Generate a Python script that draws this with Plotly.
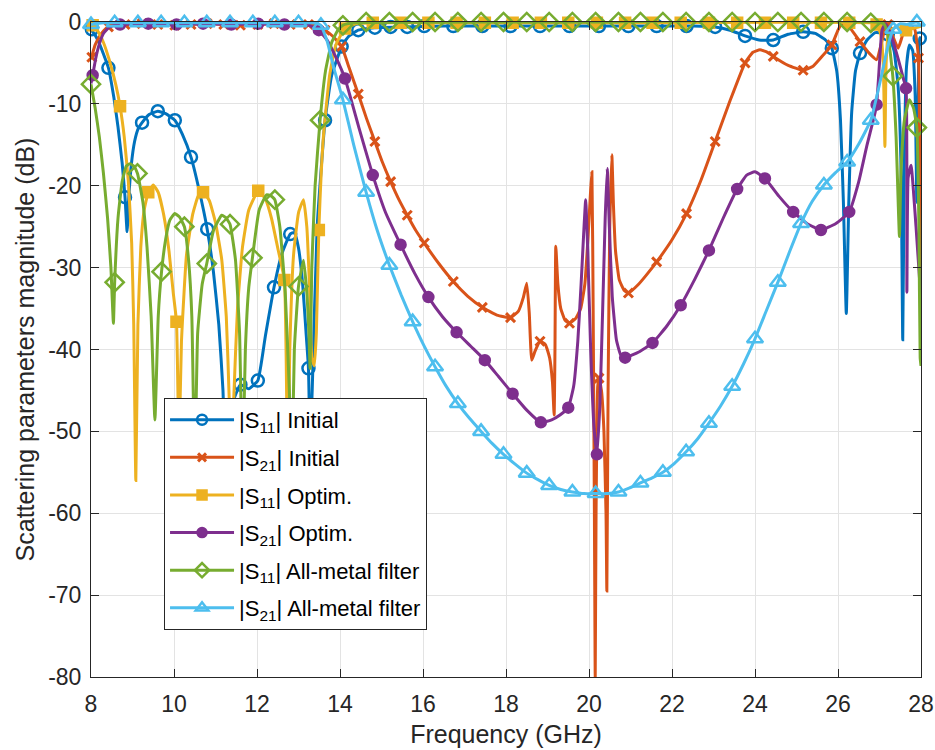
import plotly.graph_objects as go

# ---------------- data (frequency GHz, magnitude dB) ----------------
s11_initial = [(8.0,-0.9),(8.1,-1.6),(8.2,-2.6),(8.3,-3.9),(8.42,-5.6),(8.55,-9.2),(8.65,-12.8),(8.75,-17.2),
    (8.82,-21.4),(8.87,-25.6),(8.91,-21.5),(8.97,-17.5),(9.05,-14.6),(9.14,-13.0),(9.23,-12.3),(9.4,-11.3),
    (9.61,-10.9),(9.8,-11.2),(10.02,-12.0),(10.2,-13.7),(10.41,-16.5),(10.6,-20.4),(10.8,-25.3),(10.95,-30.5),
    (11.08,-37),(11.18,-45),(11.26,-58),(11.34,-50),(11.45,-46),(11.6,-44.3),(11.8,-44.8),(12.02,-43.8),
    (12.2,-38.4),(12.41,-32.4),(12.6,-28.3),(12.8,-25.9),(12.9,-25.7),(13.0,-27.6),(13.1,-32),(13.18,-37.8),
    (13.24,-42.3),(13.28,-52),(13.33,-45),(13.45,-25),(13.64,-12.0),(13.8,-6.5),(14.04,-3.0),(14.2,-1.8),
    (14.44,-1.0),(14.84,-0.7),(15.5,-0.6),(16.5,-0.5),(17.5,-0.5),(18.5,-0.5),(19.5,-0.5),(20.5,-0.5),
    (21.5,-0.5),(22.5,-0.5),(23.04,-0.6),(23.4,-1.0),(23.76,-1.7),(24.1,-2.2),(24.44,-2.2),(24.8,-1.5),
    (25.16,-1.2),(25.45,-1.4),(25.7,-2.2),(25.85,-3.2),(25.97,-6),(26.06,-12),(26.13,-22),(26.2,-35.6),
    (26.26,-22),(26.33,-11),(26.42,-6),(26.53,-3.8),(26.7,-2.2),(26.9,-1.3),(27.2,-1.5),(27.35,-3.5),
    (27.45,-8),(27.52,-18),(27.56,-38.8),(27.6,-16),(27.65,-5.5),(27.72,-2.8),(27.8,-3.5),(27.86,-9),
    (27.9,-22),(27.94,-6),(27.97,-2.0),(28.0,-1.8)]

s21_initial = [(8.0,-4.5),(8.1,-2.8),(8.2,-1.8),(8.3,-1.1),(8.42,-0.6),(8.6,-0.3),(8.82,-0.3),(9.23,-0.2),
    (9.61,-0.3),(10.02,-0.4),(10.41,-0.3),(10.8,-0.2),(11.2,-0.3),(11.6,-0.4),(12.02,-0.3),(12.41,-0.2),
    (12.8,-0.3),(13.24,-0.3),(13.45,-0.5),(13.64,-1.0),(13.84,-1.8),(14.04,-3.0),(14.22,-5.6),(14.44,-8.8),
    (14.64,-11.8),(14.84,-14.6),(15.02,-17.1),(15.22,-19.5),(15.42,-21.7),(15.62,-23.6),(15.82,-25.4),
    (16.03,-27.0),(16.38,-29.5),(16.73,-31.7),(17.08,-33.5),(17.43,-34.85),(17.78,-35.8),(18.11,-36.1),
    (18.3,-35.3),(18.42,-33.6),(18.5,-31.9),(18.56,-35.5),(18.62,-41.3),(18.7,-40.2),(18.82,-39.0),
    (18.95,-39.4),(19.05,-41),(19.12,-44),(19.16,-48.0),(19.18,-40),(19.2,-27.4),(19.25,-32),(19.32,-35),
    (19.42,-36.4),(19.53,-36.8),(19.68,-36.2),(19.8,-35.0),(19.9,-32),(19.98,-26),(20.04,-20.5),(20.07,-18.3),
    (20.1,-35),(20.13,-60),(20.15,-80),(20.17,-60),(20.21,-44.5),(20.24,-43.5),(20.3,-45),(20.36,-50),
    (20.41,-60),(20.43,-69.5),(20.46,-45),(20.5,-25),(20.55,-16.2),(20.59,-22.5),(20.64,-28),(20.73,-31.5),
    (20.85,-32.8),(20.95,-33.1),(21.2,-32.0),(21.4,-30.8),(21.63,-29.3),(22.0,-26.6),(22.35,-23.4),
    (22.7,-19.3),(23.04,-14.6),(23.4,-9.6),(23.76,-5.0),(23.95,-3.7),(24.12,-3.4),(24.3,-3.7),(24.44,-4.2),
    (24.8,-5.3),(25.16,-5.9),(25.4,-5.4),(25.65,-4.0),(25.85,-2.8),(26.0,-1.0),(26.09,-0.2),(26.3,-0.8),
    (26.53,-2.4),(26.75,-3.8),(26.93,-4.6),(27.05,-2.5),(27.17,-0.1),(27.3,-1.5),(27.45,-3.2),(27.6,-1.0),
    (27.75,-0.5),(27.85,-0.9),(27.94,-4.4),(27.97,-18),(28.0,-40)]

s11_optim = [(8.0,-0.3),(8.04,-0.4),(8.15,-1.0),(8.3,-2.5),(8.45,-4.8),(8.6,-7.7),(8.7,-10.3),(8.8,-14),
    (8.9,-19.5),(8.98,-27),(9.03,-37),(9.08,-56),(9.13,-37),(9.2,-27.5),(9.28,-23),(9.38,-20.8),(9.5,-19.9),
    (9.62,-20.8),(9.75,-23.5),(9.88,-28),(9.98,-33),(10.06,-36.6),(10.12,-52),(10.18,-39),(10.3,-28.5),
    (10.45,-23.5),(10.58,-21.3),(10.7,-20.8),(10.85,-21.8),(11.0,-24.5),(11.15,-29),(11.26,-36),(11.33,-46),
    (11.38,-58),(11.44,-46),(11.53,-35),(11.65,-27.5),(11.8,-23),(12.03,-20.6),(12.2,-21.6),(12.35,-24),
    (12.5,-27.6),(12.66,-31.5),(12.7,-40),(12.74,-55),(12.79,-40),(12.88,-28.5),(13.0,-23.3),(13.12,-21.7),
    (13.2,-25),(13.27,-33),(13.32,-41),(13.38,-42),(13.43,-38),(13.49,-25.4),(13.6,-14),(13.75,-6.5),
    (13.9,-2.8),(14.12,-0.8),(14.4,-0.2),(15.0,-0.1),(20.0,-0.1),(26.8,-0.1),(26.93,-0.3),(27.03,-1.5),
    (27.09,-5),(27.13,-15.2),(27.16,-5),(27.22,-1.2),(27.4,-0.6),(27.64,-1.0),(27.8,-0.8),(28.0,-0.5)]

s21_optim = [(8.0,-7.5),(8.04,-6.5),(8.12,-4.3),(8.2,-2.7),(8.3,-1.4),(8.45,-0.6),(8.7,-0.3),(9.38,-0.2),
    (10.06,-0.3),(10.7,-0.2),(11.38,-0.3),(12.03,-0.2),(12.66,-0.3),(13.2,-0.3),(13.49,-1.0),(13.7,-2.3),
    (13.9,-4.3),(14.12,-6.9),(14.45,-12.8),(14.79,-18.7),(15.1,-23.3),(15.46,-27.2),(15.8,-30.7),(16.13,-33.6),
    (16.47,-36.0),(16.81,-37.9),(17.15,-39.6),(17.49,-41.3),(17.82,-43.3),(18.16,-45.4),(18.5,-47.4),
    (18.84,-48.9),(19.1,-48.6),(19.3,-48.0),(19.5,-47.1),(19.63,-44.5),(19.73,-39),(19.81,-32),(19.87,-26),
    (19.92,-21.7),(19.97,-28),(20.04,-40),(20.12,-49.5),(20.19,-52.8),(20.26,-47),(20.33,-35),(20.39,-24),
    (20.44,-17.9),(20.49,-25),(20.56,-33.5),(20.66,-38.8),(20.76,-40.6),(20.87,-41.0),(21.2,-40.3),
    (21.53,-39.2),(21.88,-37.1),(22.21,-34.6),(22.55,-31.4),(22.89,-27.9),(23.23,-24.0),(23.57,-20.4),
    (23.8,-18.7),(24.0,-18.3),(24.24,-19.1),(24.58,-21.3),(24.92,-23.2),(25.25,-24.6),(25.59,-25.4),
    (25.95,-24.6),(26.27,-23.2),(26.5,-19.5),(26.7,-15),(26.85,-12),(26.93,-10.1),(27.0,-5),(27.06,-1),
    (27.14,-0.2),(27.25,-1.2),(27.45,-4.5),(27.58,-7),(27.64,-8.1),(27.66,-33),(27.69,-19),(27.76,-17.5),
    (27.88,-25),(28.0,-34)]

s11_allmetal = [(8.0,-7.6),(8.1,-10.5),(8.2,-14),(8.3,-18.5),(8.4,-24),(8.48,-30),(8.54,-36.8),(8.57,-31.8),
    (8.65,-24),(8.75,-19.5),(8.85,-17.6),(8.94,-17.3),(9.03,-17.6),(9.12,-18.5),(9.25,-22),(9.35,-27.5),
    (9.45,-36),(9.54,-48.6),(9.62,-36),(9.7,-30.5),(9.8,-26.5),(9.9,-24.2),(10.02,-23.4),(10.13,-23.8),
    (10.25,-25.0),(10.35,-29),(10.43,-36),(10.5,-55),(10.57,-38),(10.68,-32),(10.79,-29.5),(10.95,-25.5),
    (11.15,-23.6),(11.25,-23.9),(11.35,-24.7),(11.48,-29),(11.58,-38),(11.65,-55),(11.72,-40),(11.8,-32.5),
    (11.89,-28.8),(12.05,-23),(12.23,-21.1),(12.33,-21.2),(12.43,-21.7),(12.55,-25),(12.68,-33),(12.78,-45),
    (12.84,-55),(12.9,-40),(13.0,-32.3),(13.12,-29.1),(13.2,-33),(13.25,-38),(13.28,-42.3),(13.32,-30),
    (13.4,-20),(13.52,-12.0),(13.65,-6),(13.8,-2.5),(13.95,-1.0),(14.07,-0.4),(14.3,-0.1),(20.0,0.0),
    (27.1,-0.2),(27.2,-1.5),(27.32,-6.6),(27.4,-14),(27.45,-22),(27.48,-26.2),(27.52,-18),(27.6,-12),
    (27.72,-9.5),(27.82,-10.5),(27.9,-12.9),(27.95,-25),(27.98,-41),(28.0,-42)]

s21_allmetal = [(8.0,-0.3),(8.3,-0.1),(10.0,-0.1),(12.0,-0.1),(13.3,-0.1),(13.45,-0.2),(13.54,-0.4),
    (13.7,-2.5),(13.85,-5.6),(14.07,-9.5),(14.33,-15.0),(14.63,-20.8),(14.9,-25.5),(15.19,-29.7),
    (15.47,-33.3),(15.75,-36.6),(16.02,-39.5),(16.29,-42.1),(16.56,-44.5),(16.84,-46.6),(17.12,-48.4),
    (17.4,-50.0),(17.67,-51.5),(17.94,-52.8),(18.22,-54.0),(18.5,-55.1),(18.77,-55.9),(19.04,-56.6),
    (19.32,-57.1),(19.6,-57.4),(19.88,-57.6),(20.16,-57.6),(20.44,-57.6),(20.71,-57.4),(20.98,-56.9),
    (21.24,-56.3),(21.51,-55.7),(21.78,-55.0),(22.06,-53.9),(22.34,-52.5),(22.62,-50.9),(22.89,-49.0),
    (23.17,-46.9),(23.45,-44.5),(23.72,-41.8),(24.0,-38.7),(24.27,-35.3),(24.55,-31.8),(24.83,-28.1),
    (25.11,-24.6),(25.38,-21.9),(25.66,-19.9),(25.94,-18.4),(26.22,-17.1),(26.5,-14.9),(26.79,-12.0),
    (27.05,-6.5),(27.2,-3.0),(27.33,-0.9),(27.5,-0.2),(27.65,-0.3),(27.9,0.0),(28.0,-0.5)]

# marker positions
s11_initial_mk = [(8.02,-0.9),(8.42,-5.6),(8.82,-21.4),(9.23,-12.3),(9.61,-10.9),(10.02,-12.0),(10.41,-16.5),
    (10.8,-25.3),(11.2,-48),(11.6,-44.3),(12.02,-43.8),(12.41,-32.4),(12.8,-25.9),(13.24,-42.3),(13.64,-12.0),
    (14.04,-3.0),(14.44,-1.0),(14.84,-0.7),(15.22,-0.6),(15.62,-0.6),(16.03,-0.5),(16.73,-0.5),(17.43,-0.5),
    (18.11,-0.5),(18.82,-0.5),(19.53,-0.5),(20.24,-0.5),(20.95,-0.5),(21.63,-0.5),(22.35,-0.5),(23.04,-0.6),
    (23.76,-1.7),(24.44,-2.2),(25.16,-1.2),(25.85,-3.2),(26.53,-3.8),(27.2,-1.5),(27.97,-2.0)]
s21_initial_mk = [(8.02,-4.3),(8.42,-0.6),(8.82,-0.3),(9.23,-0.2),(9.61,-0.3),(10.02,-0.4),(10.41,-0.3),
    (10.8,-0.2),(11.2,-0.3),(11.6,-0.4),(12.02,-0.3),(12.41,-0.2),(12.8,-0.3),(13.24,-0.3),(13.64,-1.0),
    (14.04,-3.0),(14.44,-8.8),(14.84,-14.6),(15.22,-19.5),(15.62,-23.6),(16.03,-27.0),(16.73,-31.7),
    (17.43,-34.85),(18.11,-36.1),(18.82,-39.0),(19.53,-36.8),(20.24,-43.5),(20.95,-33.1),(21.63,-29.3),
    (22.35,-23.4),(23.04,-14.6),(23.76,-5.0),(24.44,-4.2),(25.16,-5.9),(25.85,-2.8),(26.53,-2.4),
    (27.2,-0.3),(27.94,-4.4)]
s11_optim_mk = [(8.04,-0.4),(8.7,-10.3),(9.38,-20.8),(10.06,-36.6),(10.7,-20.8),(11.38,-58),(12.03,-20.6),
    (12.66,-31.5),(13.49,-25.4),(14.12,-0.8),(14.79,-0.1),(15.46,-0.1),(16.13,-0.1),(16.81,-0.1),(17.49,-0.1),
    (18.16,-0.1),(18.84,-0.1),(19.5,-0.1),(20.19,-0.1),(20.87,-0.1),(21.53,-0.1),(22.21,-0.1),(22.89,-0.1),
    (23.57,-0.1),(24.24,-0.1),(24.92,-0.1),(25.59,-0.1),(26.27,-0.1),(26.93,-0.3),(27.64,-1.0)]
s21_optim_mk = [(8.04,-6.5),(8.7,-0.3),(9.38,-0.2),(10.06,-0.3),(10.7,-0.2),(11.38,-0.3),(12.03,-0.2),
    (12.66,-0.3),(13.49,-1.0),(14.12,-6.9),(14.79,-18.7),(15.46,-27.2),(16.13,-33.6),(16.81,-37.9),
    (17.49,-41.3),(18.16,-45.4),(18.84,-48.9),(19.5,-47.1),(20.19,-52.8),(20.87,-41.0),(21.53,-39.2),
    (22.21,-34.6),(22.89,-27.9),(23.57,-20.4),(24.24,-19.1),(24.92,-23.2),(25.59,-25.4),(26.27,-23.2),
    (26.93,-10.1),(27.64,-8.1)]
s11_allmetal_mk = [(8.0,-7.6),(8.57,-31.8),(9.12,-18.5),(9.7,-30.5),(10.25,-25.0),(10.79,-29.5),(11.35,-24.7),
    (11.89,-28.8),(12.43,-21.7),(13.0,-32.3),(13.52,-12.0),(14.07,-0.4),(14.63,0.0),(15.19,0.0),(15.75,0.0),
    (16.29,0.0),(16.84,0.0),(17.4,0.0),(17.94,0.0),(18.5,0.0),(19.04,0.0),(19.6,0.0),(20.16,0.0),(20.71,0.0),
    (21.24,0.0),(21.78,0.0),(22.34,0.0),(22.89,0.0),(23.45,0.0),(24.0,0.0),(24.55,0.0),(25.11,0.0),
    (25.66,0.0),(26.22,0.0),(26.79,-0.1),(27.32,-6.6),(27.9,-12.9)]
s21_allmetal_mk = [(8.0,-0.3),(8.57,-0.1),(9.13,-0.1),(9.69,-0.1),(10.25,-0.1),(10.79,-0.1),(11.35,-0.1),
    (11.9,-0.1),(12.43,-0.1),(13.0,-0.1),(13.54,-0.4),(14.07,-9.5),(14.63,-20.8),(15.19,-29.7),(15.75,-36.6),
    (16.29,-42.1),(16.84,-46.6),(17.4,-50.0),(17.94,-52.8),(18.5,-55.1),(19.04,-56.6),(19.6,-57.4),
    (20.16,-57.6),(20.71,-57.4),(21.24,-56.3),(21.78,-55.0),(22.34,-52.5),(22.89,-49.0),(23.45,-44.5),
    (24.0,-38.7),(24.55,-31.8),(25.11,-24.6),(25.66,-19.9),(26.22,-17.1),(26.79,-12.0),(27.33,-0.9),(27.9,0.0)]

names = ["|S<sub>11</sub>| Initial", "|S<sub>21</sub>| Initial", "|S<sub>11</sub>| Optim.",
         "|S<sub>21</sub>| Optim.", "|S<sub>11</sub>| All-metal filter", "|S<sub>21</sub>| All-metal filter"]
x_ticks = [8, 10, 12, 14, 16, 18, 20, 22, 24, 26, 28]
y_ticks = [0, -10, -20, -30, -40, -50, -60, -70, -80]

# ---------------- styling ----------------
colors = ["#0072BD", "#D95319", "#EDB120", "#7E2F8E", "#77AC30", "#4DBEEE"]
symbols = ["circle-open", "x-thin-open", "square", "circle", "diamond-open", "triangle-up-open"]
msizes = [12, 9, 10, 10, 14, 14]
legend_msizes = [10, 8, 9, 9, 11, 11]

series = [(s11_initial, s11_initial_mk), (s21_initial, s21_initial_mk), (s11_optim, s11_optim_mk),
          (s21_optim, s21_optim_mk), (s11_allmetal, s11_allmetal_mk), (s21_allmetal, s21_allmetal_mk)]

FONT = "Liberation Sans, Arial, Helvetica, sans-serif"
fig = go.Figure()
for i, ((line, mk), name) in enumerate(zip(series, names)):
    c = colors[i]
    fig.add_trace(go.Scatter(
        x=[p[0] for p in line], y=[p[1] for p in line], mode="lines",
        line=dict(color=c, width=3, shape="spline", smoothing=0.4),
        showlegend=False, legendgroup=f"g{i}", hoverinfo="skip"))
    fig.add_trace(go.Scatter(
        x=[p[0] for p in mk], y=[p[1] for p in mk], mode="markers",
        marker=dict(symbol=symbols[i], size=msizes[i], color=c,
                    line=dict(color=c, width=2.5 if i != 1 else 3)),
        cliponaxis=False, showlegend=False, legendgroup=f"g{i}", hoverinfo="skip"))
    fig.add_trace(go.Scatter(
        x=[None], y=[None], mode="lines+markers", name=name,
        line=dict(color=c, width=3),
        marker=dict(symbol=symbols[i], size=legend_msizes[i], color=c,
                    line=dict(color=c, width=2.5 if i != 1 else 3)),
        legendgroup=f"g{i}", showlegend=True))

axis_common = dict(showline=True, linecolor="#262626", linewidth=1, mirror="ticks",
                   ticks="inside", ticklen=8, tickcolor="#262626", tickwidth=1,
                   showgrid=True, gridcolor="#E3E3E3", gridwidth=1, zeroline=False,
                   automargin=False,
                   tickfont=dict(family=FONT, size=23, color="#262626"))

fig.update_layout(
    width=935, height=750, autosize=False,
    margin=dict(l=91, r=14, t=22, b=73, autoexpand=False),
    paper_bgcolor="white", plot_bgcolor="white",
    font=dict(family=FONT, color="#262626"),
    xaxis=dict(range=[8, 28], tickvals=x_ticks, ticktext=[str(v) for v in x_ticks],
               ticklabelstandoff=6,
               title=dict(text="Frequency (GHz)", font=dict(family=FONT, size=25, color="#262626"), standoff=9),
               **axis_common),
    yaxis=dict(range=[-80, 0], tickvals=y_ticks, ticktext=[str(v) for v in y_ticks],
               ticklabelstandoff=4,
               title=dict(text="Scattering parameters magnitude (dB)", font=dict(family=FONT, size=25, color="#262626"), standoff=6),
               **axis_common),
    legend=dict(x=0.088, y=0.426, xanchor="left", yanchor="top", bgcolor="white",
                bordercolor="#262626", borderwidth=1, tracegroupgap=6, itemwidth=64,
                font=dict(family=FONT, size=22, color="#000000")),
)

fig.write_html("out.html")
